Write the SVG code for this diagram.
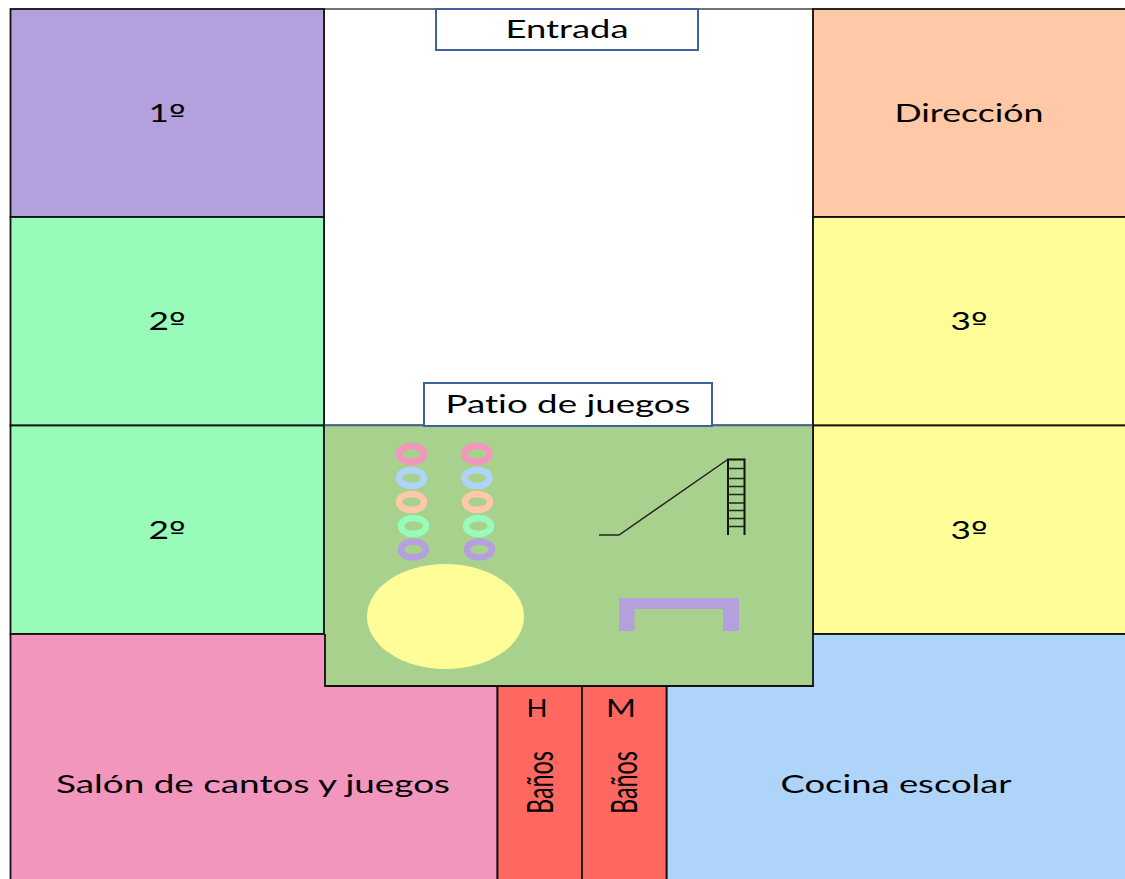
<svg xmlns="http://www.w3.org/2000/svg" width="1125" height="879" viewBox="0 0 1125 879">
<style>
.room{stroke:#111;stroke-width:1.8}
.lbl{font-family:"Lato","Open Sans",sans-serif;font-size:25px;fill:#000;text-anchor:middle;font-variant-ligatures:none}
.ord{font-family:"DejaVu Sans",sans-serif}
.ban{font-size:36px}
.box{fill:#fff;stroke:#3f62a0;stroke-width:2}
.ring{fill:none;stroke-width:6.500}
.lad{stroke:#111;stroke-width:2;fill:none}
.thin{stroke:#222;stroke-width:1.5;fill:none}
</style>
<rect width="1125" height="879" fill="#fff"/>
<g id="patio-area"><rect x="324" y="9" width="489" height="416" fill="#fff" stroke="#444" stroke-width="1.500"/></g>
<g id="aula-1"><rect class="room" x="10.500" y="9" width="313.500" height="208" fill="#b4a0dc"/><text class="lbl" x="167" y="122" textLength="37" lengthAdjust="spacingAndGlyphs">1<tspan class="ord">º</tspan></text></g>
<g id="aula-2a"><rect class="room" x="10.500" y="217" width="313.500" height="208.500" fill="#98fbba"/><text class="lbl" x="167" y="330" textLength="37" lengthAdjust="spacingAndGlyphs">2<tspan class="ord">º</tspan></text></g>
<g id="aula-2b"><rect class="room" x="10.500" y="425.500" width="313.500" height="208.500" fill="#98fbba"/><text class="lbl" x="167" y="539" textLength="37" lengthAdjust="spacingAndGlyphs">2<tspan class="ord">º</tspan></text></g>
<g id="direccion"><rect class="room" x="813" y="9" width="314" height="208" fill="#ffc8a6"/><text class="lbl" x="969" y="122" textLength="149" lengthAdjust="spacingAndGlyphs">Dirección</text></g>
<g id="aula-3a"><rect class="room" x="813" y="217" width="314" height="208.500" fill="#fffd98"/><text class="lbl" x="969" y="330" textLength="37" lengthAdjust="spacingAndGlyphs">3<tspan class="ord">º</tspan></text></g>
<g id="aula-3b"><rect class="room" x="813" y="425.500" width="314" height="208.500" fill="#fffd98"/><text class="lbl" x="969" y="539" textLength="37" lengthAdjust="spacingAndGlyphs">3<tspan class="ord">º</tspan></text></g>
<g id="salon"><rect class="room" x="10.500" y="634" width="487" height="250" fill="#f396be"/><text class="lbl" x="253" y="793" textLength="394" lengthAdjust="spacingAndGlyphs">Salón de cantos y juegos</text></g>
<g id="cocina"><rect class="room" x="666.500" y="634" width="470" height="250" fill="#aed4fa"/><text class="lbl" x="896" y="793" textLength="231" lengthAdjust="spacingAndGlyphs">Cocina escolar</text></g>
<g id="bano-h"><rect class="room" x="497.500" y="686" width="84.500" height="198" fill="#ff6860"/><text class="lbl" x="537" y="717" textLength="21" lengthAdjust="spacingAndGlyphs">H</text><text class="lbl ban" transform="translate(553 782.500) rotate(-90)" textLength="63" lengthAdjust="spacingAndGlyphs">Baños</text></g>
<g id="bano-m"><rect class="room" x="582" y="686" width="84.500" height="198" fill="#ff6860"/><text class="lbl" x="621" y="717" textLength="30" lengthAdjust="spacingAndGlyphs">M</text><text class="lbl ban" transform="translate(637 782.500) rotate(-90)" textLength="63" lengthAdjust="spacingAndGlyphs">Baños</text></g>
<g id="patio"><path d="M324 425.500H813V686H325V634H324Z" fill="#a9d18e"/><path d="M324 425.500H813" stroke="#3f62a0" stroke-width="1.500" fill="none"/><path d="M813 425.500V686H325V634" stroke="#111" stroke-width="1.800" fill="none"/><path d="M324 425.500V634" stroke="#111" stroke-width="1.800" fill="none"/></g>
<g id="aros">
<ellipse class="ring" cx="411.500" cy="454" rx="12.500" ry="8" stroke="#f396be"/><ellipse class="ring" cx="477" cy="454" rx="12.500" ry="8" stroke="#f396be"/>
<ellipse class="ring" cx="411.500" cy="478" rx="12.500" ry="8" stroke="#aed4fa"/><ellipse class="ring" cx="477" cy="478" rx="12.500" ry="8" stroke="#aed4fa"/>
<ellipse class="ring" cx="411.500" cy="502" rx="12.500" ry="8" stroke="#ffc8a6"/><ellipse class="ring" cx="477.500" cy="502" rx="12.500" ry="8" stroke="#ffc8a6"/>
<ellipse class="ring" cx="413.500" cy="526" rx="12.500" ry="8" stroke="#98fbba"/><ellipse class="ring" cx="478.500" cy="526" rx="12.500" ry="8" stroke="#98fbba"/>
<ellipse class="ring" cx="413.500" cy="549.500" rx="12.500" ry="8" stroke="#b4a0dc"/><ellipse class="ring" cx="479.500" cy="549.500" rx="12.500" ry="8" stroke="#b4a0dc"/>
</g>
<g id="tobogan">
<path class="thin" d="M599 535H619L727 460"/>
<path class="lad" d="M728 535V459.500H744.500V535"/>
<path class="thin" d="M728 468.500H744.500M728 478.500H744.500M728 486.500H744.500M728 494.500H744.500M728 503H744.500M728 510.500H744.500M728 518.500H744.500M728 526.500H744.500"/>
</g>
<g id="pelota"><ellipse cx="445.500" cy="616.500" rx="78.500" ry="52.500" fill="#fffd98"/></g>
<g id="banco"><path d="M619 598H739V631H723V609H634.500V631H619Z" fill="#b4a0dc"/></g>
<g id="entrada"><rect class="box" x="436" y="9" width="262" height="41"/><text class="lbl" x="567" y="38" textLength="123" lengthAdjust="spacingAndGlyphs">Entrada</text></g>
<g id="patio-label"><rect class="box" x="424" y="383" width="288" height="43"/><text class="lbl" x="568" y="413" textLength="245" lengthAdjust="spacingAndGlyphs">Patio de juegos</text></g>
</svg>
